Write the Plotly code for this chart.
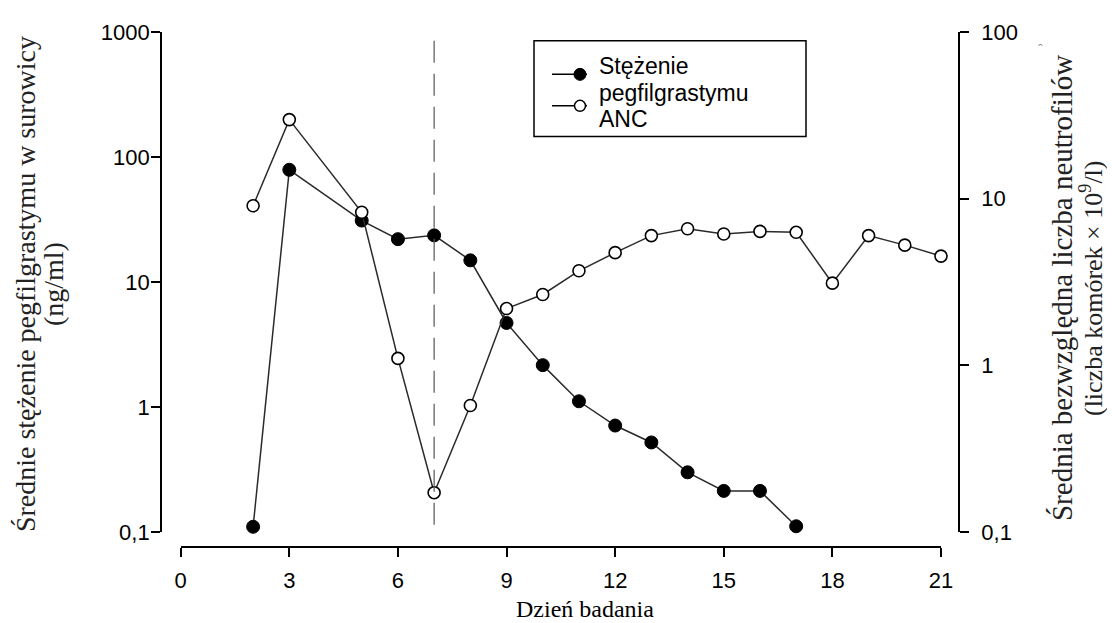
import math
import plotly.graph_objects as go

# ---------------- data ----------------
days_conc = [2, 3, 5, 6, 7, 8, 9, 10, 11, 12, 13, 14, 15, 16, 17]
conc_ng_ml = [0.11, 79, 31, 22, 23.6, 14.9, 4.7, 2.16, 1.11, 0.71, 0.52, 0.30, 0.213, 0.213, 0.111]

days_anc = [2, 3, 5, 6, 7, 8, 9, 10, 11, 12, 13, 14, 15, 16, 17, 18, 19, 20, 21]
anc = [9.06, 29.8, 8.28, 1.10, 0.172, 0.574, 2.19, 2.66, 3.69, 4.74, 6.0, 6.6, 6.14, 6.36, 6.28, 3.11, 6.0, 5.26, 4.52]

dose_day = 7

x_ticks = [0, 3, 6, 9, 12, 15, 18, 21]
left_tickvals = [0.1, 1, 10, 100, 1000]
left_ticktext = ["0,1", "1", "10", "100", "1000"]
right_tickvals = [0.1, 1, 10, 100]
right_ticktext = ["0,1", "1", "10", "100"]

label_conc = ["Stężenie", "pegfilgrastymu"]
label_anc = "ANC"
x_title = "Dzień badania"
left_title = ["Średnie stężenie pegfilgrastymu w surowicy", "(ng/ml)"]
right_title = ["Średnia bezwzględna liczba neutrofilów", "(liczba komórek × 10<sup>9</sup>/l)"]

# ---------------- geometry helpers (screen pixel coords -> paper) ----------------
OFF = 8  # page body margin
W, H = 1115 - OFF, 623 - OFF
ML, MT = 161 - OFF, 24 - OFF
MR = W - (959 - OFF)
MB = H - (547 - OFF)
PW, PH = W - ML - MR, H - MT - MB


def px(x):
    return (x - OFF - ML) / PW


def py(y):
    return (H - MB - (y - OFF)) / PH


def minor_vals(lo, hi):
    vals = []
    for e in range(lo, hi):
        for k in range(2, 10):
            vals.append(k * 10 ** e)
    return vals


LINE_COL = "#2a2a2a"
TICK_FONT = dict(family="Liberation Sans, Arial, sans-serif", size=22, color="black")
SERIF = "Liberation Serif, Times New Roman, serif"

x_dom = [px(180.7), px(941)]
y_dom = [py(531.7), 1]
X_RANGE = [0, 21]
LEFT_RANGE = [-1, 3]
RIGHT_RANGE = [-1, 2]

# x (data units) of the paper edges where the free y axes sit, plus minor-tick centre offsets
x_per_paper = (X_RANGE[1] - X_RANGE[0]) / (x_dom[1] - x_dom[0])
x_at_left_axis = X_RANGE[0] - x_dom[0] * x_per_paper
x_at_right_axis = X_RANGE[1] + (1 - x_dom[1]) * x_per_paper
px_per_x = PW / x_per_paper
x_minor_left = x_at_left_axis - 3.3 / px_per_x
x_minor_right = x_at_right_axis + 3.3 / px_per_x

fig = go.Figure()

fig.add_trace(go.Scatter(
    x=days_conc, y=conc_ng_ml, xaxis="x", yaxis="y",
    mode="lines+markers", name="Stężenie pegfilgrastymu",
    line=dict(color=LINE_COL, width=1.5),
    marker=dict(symbol="circle", size=13, color="black", line=dict(color="black", width=1)),
    cliponaxis=False, showlegend=False,
))
fig.add_trace(go.Scatter(
    x=days_anc, y=anc, xaxis="x", yaxis="y2",
    mode="lines+markers", name="ANC",
    line=dict(color=LINE_COL, width=1.5),
    marker=dict(symbol="circle", size=12, color="white", line=dict(color="black", width=1.6)),
    cliponaxis=False, showlegend=False,
))

# minor log tick marks (axis decoration) as horizontal line markers just outside each axis
lv = minor_vals(LEFT_RANGE[0], LEFT_RANGE[1])
rv = minor_vals(RIGHT_RANGE[0], RIGHT_RANGE[1])
fig.add_trace(go.Scatter(
    x=[x_minor_left] * len(lv), y=lv, xaxis="x", yaxis="y", mode="markers",
    marker=dict(symbol="line-ew", size=5, color="black", line=dict(color="black", width=2)),
    cliponaxis=False, showlegend=False, hoverinfo="skip",
))
fig.add_trace(go.Scatter(
    x=[x_minor_right] * len(rv), y=rv, xaxis="x", yaxis="y2", mode="markers",
    marker=dict(symbol="line-ew", size=5, color="black", line=dict(color="black", width=2)),
    cliponaxis=False, showlegend=False, hoverinfo="skip",
))

common_y = dict(domain=y_dom, type="log", anchor="free", showgrid=False, zeroline=False,
                tickcolor="black", ticks="outside", ticklen=9, tickwidth=1.8,
                showline=True, linecolor="black", linewidth=1.8, tickfont=TICK_FONT,
                tickmode="array")

fig.update_layout(
    width=W, height=H,
    margin=dict(l=ML, r=MR, t=MT, b=MB),
    paper_bgcolor="white", plot_bgcolor="white",
    showlegend=False,
    xaxis=dict(
        domain=x_dom, range=X_RANGE, anchor="free", position=0,
        tickvals=x_ticks, ticks="outside", ticklen=9, tickwidth=1.8, tickcolor="black",
        showline=True, linecolor="black", linewidth=1.8, mirror=False,
        showgrid=False, zeroline=False, tickfont=TICK_FONT, ticklabelstandoff=5,
    ),
    yaxis=dict(**common_y, range=LEFT_RANGE, position=0,
               tickvals=left_tickvals, ticktext=left_ticktext, ticklabelstandoff=-3),
    yaxis2=dict(**common_y, range=RIGHT_RANGE, position=1, overlaying="y", side="right",
                tickvals=right_tickvals, ticktext=right_ticktext, ticklabelstandoff=8),
)

# dashed vertical reference line at dosing day
fig.add_shape(type="line", xref="x", yref="paper", x0=dose_day, x1=dose_day,
              y0=py(33), y1=py(532), line=dict(color="#555555", width=1.2, dash="22px,11px"))

# ---------------- axis titles ----------------
fig.add_annotation(text=x_title, xref="paper", yref="paper", x=px(585), y=py(610),
                   showarrow=False, font=dict(family=SERIF, size=24, color="black"),
                   xanchor="center", yanchor="middle")
fig.add_annotation(text=left_title[0], xref="paper", yref="paper", x=px(25), y=py(280),
                   showarrow=False, textangle=-90, font=dict(family=SERIF, size=28, color="#222"),
                   xanchor="center", yanchor="middle")
fig.add_annotation(text=left_title[1], xref="paper", yref="paper", x=px(53), y=py(280),
                   showarrow=False, textangle=-90, font=dict(family=SERIF, size=28, color="#222"),
                   xanchor="center", yanchor="middle")
fig.add_annotation(text=right_title[0], xref="paper", yref="paper", x=px(1062), y=py(284),
                   showarrow=False, textangle=-90, font=dict(family=SERIF, size=29, color="#222"),
                   xanchor="center", yanchor="middle")
fig.add_annotation(text=right_title[1], xref="paper", yref="paper", x=px(1091), y=py(284),
                   showarrow=False, textangle=-90, font=dict(family=SERIF, size=26, color="#222"),
                   xanchor="center", yanchor="middle")
fig.add_annotation(text="ˆ", xref="paper", yref="paper", x=px(1045), y=py(32),
                   showarrow=False, font=dict(family=SERIF, size=14, color="#888"))

# ---------------- manual legend ----------------
fig.add_shape(type="rect", xref="paper", yref="paper", x0=px(534), x1=px(806), y0=py(130), y1=py(33),
              line=dict(color="black", width=1.5), fillcolor="white", layer="below")
for ly in (67, 99):
    fig.add_shape(type="line", xref="paper", yref="paper", x0=px(552), x1=px(587), y0=py(ly), y1=py(ly),
                  line=dict(color="black", width=1.5))
fig.add_shape(type="circle", xref="paper", yref="paper", xsizemode="pixel", ysizemode="pixel",
              xanchor=px(580), yanchor=py(67), x0=-6, x1=6, y0=-6, y1=6,
              fillcolor="black", line=dict(color="black", width=1))
fig.add_shape(type="circle", xref="paper", yref="paper", xsizemode="pixel", ysizemode="pixel",
              xanchor=px(580), yanchor=py(99), x0=-5.5, x1=5.5, y0=-5.5, y1=5.5,
              fillcolor="white", line=dict(color="black", width=1.5))
LEG_FONT = dict(family="Liberation Sans, Arial, sans-serif", size=23, color="black")
for txt, ly in ((label_conc[0], 59), (label_conc[1], 86), (label_anc, 112)):
    fig.add_annotation(text=txt, xref="paper", yref="paper", x=px(597), y=py(ly),
                       showarrow=False, xanchor="left", yanchor="middle", font=LEG_FONT)

fig.write_html("out.html")
